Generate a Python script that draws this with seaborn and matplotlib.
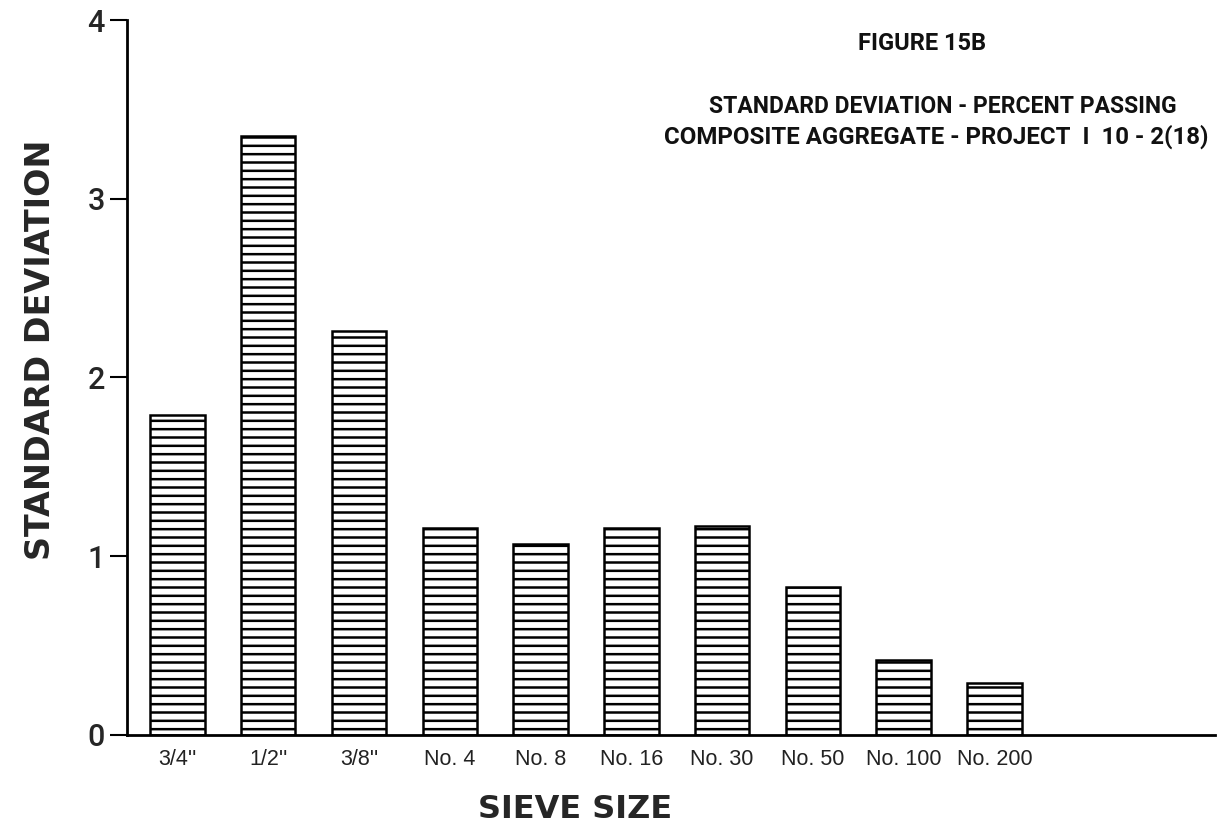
import matplotlib
matplotlib.use("Agg")
import matplotlib.pyplot as plt
import seaborn as sns
import pandas as pd

sieve_sizes = ["3/4''", "1/2''", "3/8''", "No. 4", "No. 8", "No. 16",
               "No. 30", "No. 50", "No. 100", "No. 200"]
std_dev = [1.79, 3.35, 2.26, 1.16, 1.07, 1.16, 1.17, 0.83, 0.42, 0.29]
y_ticks = [0, 1, 2, 3, 4]

sns.set_theme(style="white")
plt.rcParams["hatch.linewidth"] = 1.8
plt.rcParams["font.family"] = ["Liberation Sans", "DejaVu Sans"]

narrow = ["Roboto", "DejaVu Sans"]

df = pd.DataFrame({"sieve": sieve_sizes, "sd": std_dev})

fig = plt.figure(figsize=(12.26, 8.27), dpi=100)
ax = fig.add_axes([0.1036, 0.1113, 0.8874, 0.8645])

sns.barplot(data=df, x="sieve", y="sd", color="white", edgecolor="black",
            linewidth=1.8, width=0.6, ax=ax, saturation=1)
for p in ax.patches:
    p.set_hatch("--")
    p.set_facecolor("white")
    p.set_edgecolor("black")

ax.set_xlim(-0.556, 11.43)
ax.set_ylim(0, 4)
ax.set_yticks(y_ticks)
ax.set_yticklabels([str(t) for t in y_ticks], family=narrow, fontsize=22,
                   fontweight="medium")
ax.set_xticks(range(len(sieve_sizes)))
ax.set_xticklabels(sieve_sizes, fontsize=15.5, color="#222222")

for s in ["top", "right"]:
    ax.spines[s].set_visible(False)
for s in ["left", "bottom"]:
    ax.spines[s].set_color("black")
    ax.spines[s].set_linewidth(2)

ax.tick_params(axis="y", which="major", left=True, length=12, width=1.5,
               pad=4, color="black")
ax.tick_params(axis="x", which="major", bottom=False, length=0, pad=10)

ax.set_xlabel("")
ax.set_ylabel("")

fig.text(0.469, 0.003, "SIEVE SIZE", fontsize=23, fontweight="bold",
         ha="center", va="bottom", family="DejaVu Sans")
fig.text(0.033, 0.577, "STANDARD DEVIATION", fontsize=24, fontweight="bold",
         rotation=90, ha="center", va="center", family="DejaVu Sans")

fig.text(0.752, 0.948, "FIGURE 15B", fontsize=17, fontweight="bold",
         ha="center", va="center", family=narrow, color="#111111")
fig.text(0.769, 0.871, "STANDARD DEVIATION - PERCENT PASSING", fontsize=16.5,
         fontweight="bold", ha="center", va="center", family=narrow,
         color="#111111")
fig.text(0.764, 0.834, "COMPOSITE AGGREGATE - PROJECT  I  10 - 2(18)",
         fontsize=17.3, fontweight="bold", ha="center", va="center",
         family=narrow, color="#111111")

fig.savefig("out.png", dpi=100, facecolor="white")
